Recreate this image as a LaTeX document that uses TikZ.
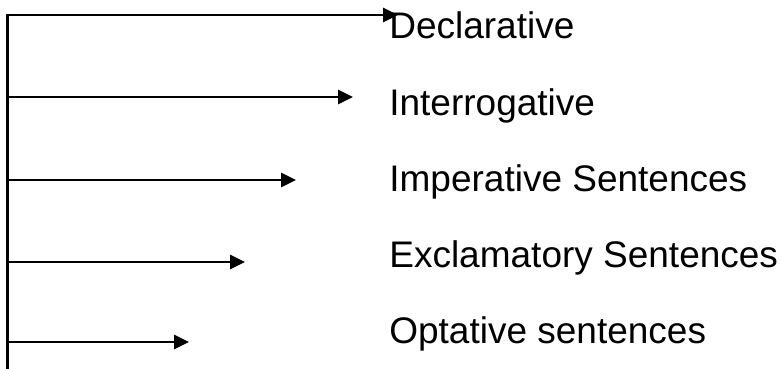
\documentclass[tikz,border=0pt]{standalone}
\usepackage{fontspec}
\setmainfont{Liberation Sans}
\usetikzlibrary{arrows.meta}

\begin{document}
\begin{tikzpicture}[x=1pt,y=-1pt,line width=2.7pt,
  kind/.style={anchor=base west,inner sep=0pt,font=\fontsize{37}{40}\selectfont},
  branch/.style={-{Triangle[length=15pt,width=14pt]}}]
  \useasboundingbox (0,0) rectangle (781,369);
  % spine
  \coordinate (top) at (7.5,13.6);
  \coordinate (bottom) at (7.5,369);
  \draw (top) -- (bottom);

  \coordinate (s1) at (7.5,15); % Declarative
  \coordinate (s2) at (7.5,97);
  \coordinate (s3) at (7.5,180);
  \coordinate (s4) at (7.5,262);
  \coordinate (s5) at (7.5,342);
  \coordinate (t1) at (398,15);
  \coordinate (t2) at (353,97);
  \coordinate (t3) at (296,180);
  \coordinate (t4) at (245,262);
  \coordinate (t5) at (189,342);

  \node[kind] (decl) at (388,39) {Declarative};
  \node[kind] (inter) at (388,115) {Interrogative};
  \node[kind] (imper) at (388,191) {Imperative Sentences};
  \node[kind] (excl) at (388,267) {Exclamatory Sentences};
  \node[kind] (opt) at (388,343) {Optative sentences};

  \draw[branch] (s1) to (t1);
  \draw[branch] (s2) to (t2);
  \draw[branch] (s3) to (t3);
  \draw[branch] (s4) to (t4);
  \draw[branch] (s5) to (t5);
\end{tikzpicture}
\end{document}
